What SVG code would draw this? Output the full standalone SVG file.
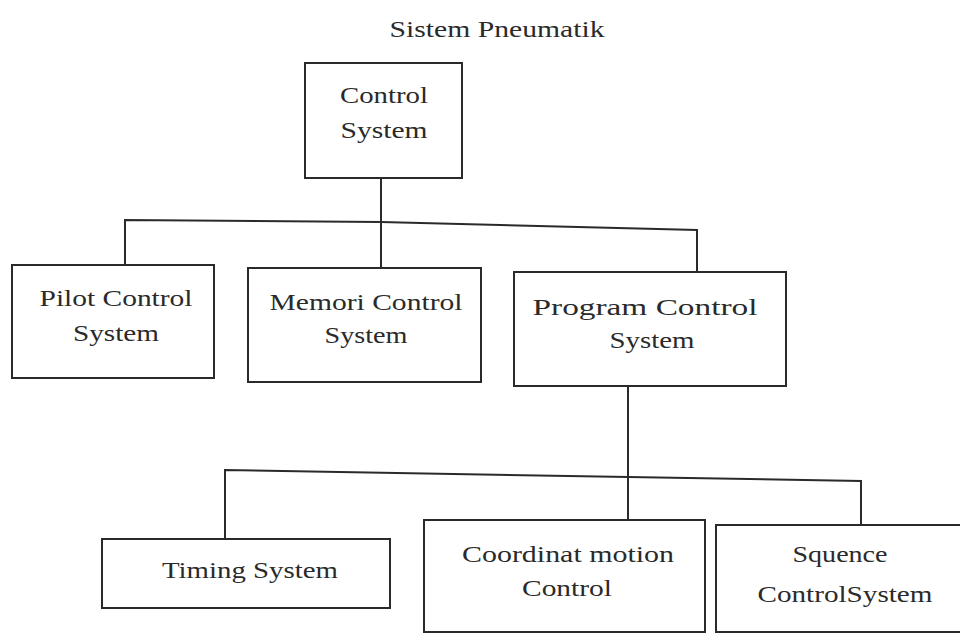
<svg xmlns="http://www.w3.org/2000/svg" width="960" height="633" viewBox="0 0 960 633">
<style>
.box{fill:#fff;stroke:#2a2a2a;stroke-width:2}
.t{font-family:"Liberation Serif","Times New Roman",serif;font-size:24px;fill:#2a2a2a;text-anchor:middle}
.c{fill:none;stroke:#2a2a2a;stroke-width:2}
</style>
<rect width="960" height="633" fill="#fff"/>
<text class="t" x="497" y="37" textLength="215" lengthAdjust="spacingAndGlyphs">Sistem Pneumatik</text>
<g id="connectors">
<path class="c" d="M381,178 L381,222"/>
<path class="c" d="M125,265 L125,220 L381,222 L697,230 L697,272"/>
<path class="c" d="M381,222 L381,268"/>
<path class="c" d="M628,386 L628,477"/>
<path class="c" d="M225,539 L225,470 L628,477 L861,481 L861,525"/>
<path class="c" d="M628,477 L628,520"/>
</g>
<g id="control-system">
<rect class="box" x="305" y="63" width="157" height="115"/>
<text class="t" x="384" y="103" textLength="88" lengthAdjust="spacingAndGlyphs">Control</text>
<text class="t" x="384" y="138" textLength="87" lengthAdjust="spacingAndGlyphs">System</text>
</g>
<g id="pilot-control-system">
<rect class="box" x="12" y="265" width="202" height="113"/>
<text class="t" x="116" y="306" textLength="153" lengthAdjust="spacingAndGlyphs">Pilot Control</text>
<text class="t" x="116" y="341" textLength="86" lengthAdjust="spacingAndGlyphs">System</text>
</g>
<g id="memori-control-system">
<rect class="box" x="248" y="268" width="233" height="114"/>
<text class="t" x="366" y="310" textLength="193" lengthAdjust="spacingAndGlyphs">Memori Control</text>
<text class="t" x="366" y="343" textLength="83" lengthAdjust="spacingAndGlyphs">System</text>
</g>
<g id="program-control-system">
<rect class="box" x="514" y="272" width="272" height="114"/>
<text class="t" x="645" y="315" textLength="225" lengthAdjust="spacingAndGlyphs">Program Control</text>
<text class="t" x="652" y="348" textLength="85" lengthAdjust="spacingAndGlyphs">System</text>
</g>
<g id="timing-system">
<rect class="box" x="102" y="539" width="288" height="69"/>
<text class="t" x="250" y="578" textLength="176" lengthAdjust="spacingAndGlyphs">Timing System</text>
</g>
<g id="coordinat-motion-control">
<rect class="box" x="424" y="520" width="281" height="112"/>
<text class="t" x="568" y="562" textLength="212" lengthAdjust="spacingAndGlyphs">Coordinat motion</text>
<text class="t" x="567" y="596" textLength="90" lengthAdjust="spacingAndGlyphs">Control</text>
</g>
<g id="squence-control-system">
<rect class="box" x="716" y="525" width="260" height="107"/>
<text class="t" x="840" y="562" textLength="95" lengthAdjust="spacingAndGlyphs">Squence</text>
<text class="t" x="845" y="602" textLength="175" lengthAdjust="spacingAndGlyphs">ControlSystem</text>
</g>
</svg>
